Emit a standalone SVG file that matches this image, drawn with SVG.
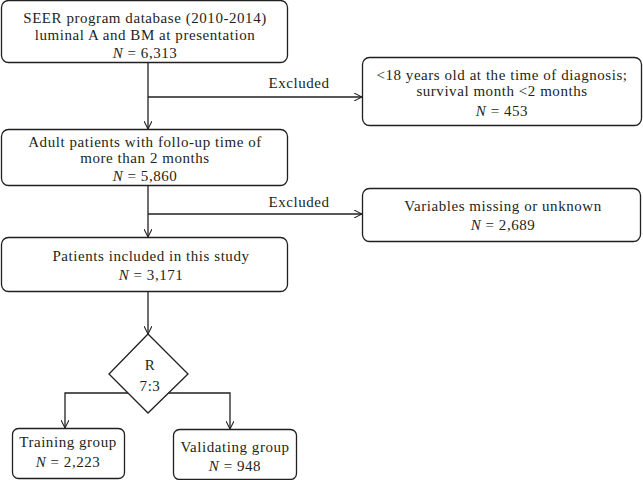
<svg xmlns="http://www.w3.org/2000/svg" width="643" height="480" viewBox="0 0 643 480">
<defs>
<marker id="arr" viewBox="0 0 10 10" refX="10" refY="5" markerWidth="8" markerHeight="8" markerUnits="userSpaceOnUse" orient="auto">
<path d="M0,0 L10,5 L0,10" fill="none" stroke="#231f20" stroke-width="1.3"/>
</marker>
<style>
.box{fill:#fff;stroke:#231f20;stroke-width:1.3}
.ln{fill:none;stroke:#231f20;stroke-width:1.3}
text{font-family:"Liberation Serif","Times New Roman",serif;font-size:15px;letter-spacing:0.55px;fill:#231f20;text-anchor:middle}
.it{font-style:italic}
</style>
</defs>
<rect width="643" height="480" fill="#fff"/>
<g id="connectors">
<path class="ln" d="M148,63 V129" marker-end="url(#arr)"/>
<path class="ln" d="M148,97 H362" marker-end="url(#arr)"/>
<path class="ln" d="M148,186 V237" marker-end="url(#arr)"/>
<path class="ln" d="M148,214 H362" marker-end="url(#arr)"/>
<path class="ln" d="M148,292 V334" marker-end="url(#arr)"/>
<path class="ln" d="M129,393 H65 V428" marker-end="url(#arr)"/>
<path class="ln" d="M167,393 H230 V429" marker-end="url(#arr)"/>
<text x="299" y="88">Excluded</text>
<text x="299" y="207">Excluded</text>
</g>
<g id="n1">
<rect class="box" x="1.5" y="0.5" width="286" height="62" rx="7"/>
<text x="145" y="23">SEER program database (2010-2014)</text>
<text x="145" y="39.6">luminal A and BM at presentation</text>
<text x="145" y="57.5"><tspan class="it">N</tspan> = 6,313</text>
</g>
<g id="n2">
<rect class="box" x="362.5" y="57.5" width="279" height="68" rx="7"/>
<text x="502" y="79.5">&lt;18 years old at the time of diagnosis;</text>
<text x="502" y="96.1">survival month &lt;2 months</text>
<text x="502" y="116"><tspan class="it">N</tspan> = 453</text>
</g>
<g id="n3">
<rect class="box" x="1.5" y="129.5" width="286" height="56" rx="7"/>
<text x="145" y="146.5">Adult patients with follo-up time of</text>
<text x="145" y="163.1">more than 2 months</text>
<text x="145" y="181"><tspan class="it">N</tspan> = 5,860</text>
</g>
<g id="n4">
<rect class="box" x="362.5" y="188.5" width="278" height="53" rx="7"/>
<text x="503" y="211">Variables missing or unknown</text>
<text x="503" y="230"><tspan class="it">N</tspan> = 2,689</text>
</g>
<g id="n5">
<rect class="box" x="1.5" y="237.5" width="286" height="54" rx="7"/>
<text x="151" y="261">Patients included in this study</text>
<text x="151" y="280"><tspan class="it">N</tspan> = 3,171</text>
</g>
<g id="n6">
<polygon class="box" points="148,334 188,374 148,413 109,374"/>
<text x="150" y="370">R</text>
<text x="150" y="391">7:3</text>
</g>
<g id="n7">
<rect class="box" x="12.5" y="428.5" width="112" height="50" rx="6"/>
<text x="68" y="447">Training group</text>
<text x="68" y="467"><tspan class="it">N</tspan> = 2,223</text>
</g>
<g id="n8">
<rect class="box" x="173.5" y="429.5" width="123" height="50" rx="6"/>
<text x="235" y="452">Validating group</text>
<text x="235" y="471"><tspan class="it">N</tspan> = 948</text>
</g>
</svg>
